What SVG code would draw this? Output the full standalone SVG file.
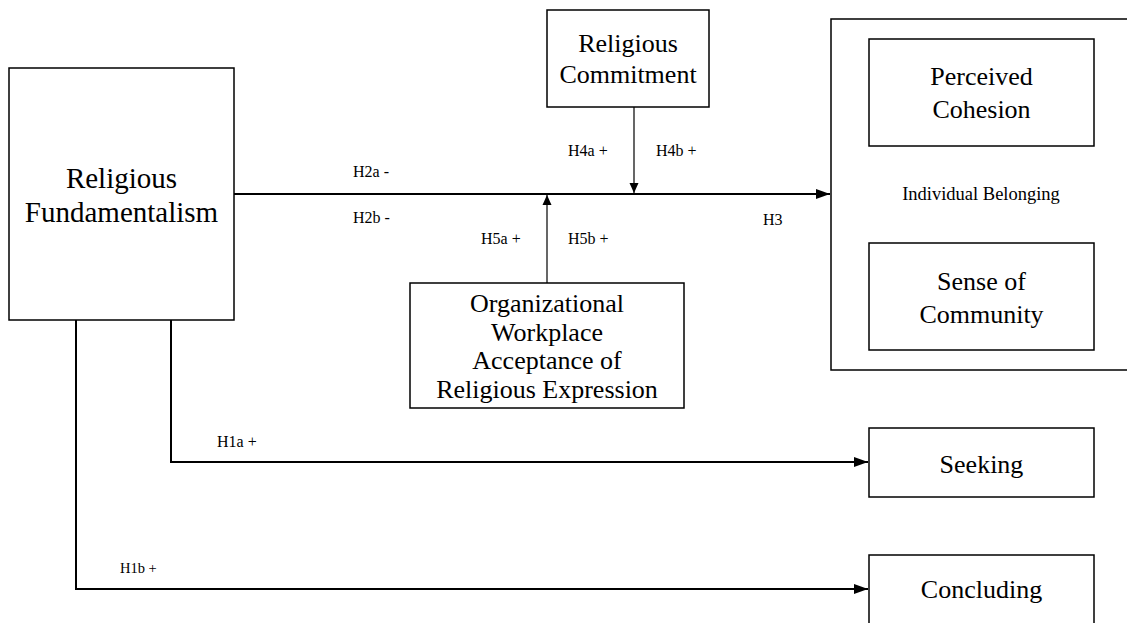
<svg xmlns="http://www.w3.org/2000/svg" width="1127" height="623" viewBox="0 0 1127 623">
<style>
.box{fill:#fff;stroke:#000;stroke-width:1.5}
.t{font-family:"Liberation Serif","Times New Roman",serif;fill:#000;text-anchor:middle}
.big{font-size:26px}
.rf{font-size:29px}
.lbl{font-family:"Liberation Serif","Times New Roman",serif;fill:#000;font-size:16px}
.c{fill:none;stroke:#000}
</style>
<defs>
<marker id="ah" markerUnits="userSpaceOnUse" markerWidth="14" markerHeight="10" refX="14" refY="5" orient="auto">
<path d="M0,0 L14,5 L0,10 Z" fill="#000"/>
</marker>
<marker id="ahs" markerUnits="userSpaceOnUse" markerWidth="10" markerHeight="10" refX="10" refY="5" orient="auto">
<path d="M0,0.5 L10,5 L0,9.5 Z" fill="#000"/>
</marker>
</defs>
<rect width="1127" height="623" fill="#fff"/>
<g id="connectors">
<path class="c" stroke-width="2" d="M234,194 H830" marker-end="url(#ah)"/>
<path class="c" stroke-width="1.2" d="M634,107 V193" marker-end="url(#ahs)"/>
<path class="c" stroke-width="1.2" d="M547,283 V195" marker-end="url(#ahs)"/>
<path class="c" stroke-width="2" d="M171,320 V462 H868" marker-end="url(#ah)"/>
<path class="c" stroke-width="2" d="M76,320 V589 H868" marker-end="url(#ah)"/>
</g>
<g id="labels">
<text class="lbl" x="353" y="177">H2a -</text>
<text class="lbl" x="353" y="223">H2b -</text>
<text class="lbl" x="568" y="156">H4a +</text>
<text class="lbl" x="656" y="156">H4b +</text>
<text class="lbl" x="481" y="244">H5a +</text>
<text class="lbl" x="568" y="244">H5b +</text>
<text class="lbl" x="763" y="225">H3</text>
<text class="lbl" x="217" y="447">H1a +</text>
<text class="lbl" x="120" y="573" style="font-size:14.5px">H1b +</text>
</g>
<g id="religious-fundamentalism">
<rect class="box" x="9" y="68" width="225" height="252"/>
<text class="t rf" x="121.5" y="188">Religious</text>
<text class="t rf" x="121.5" y="222">Fundamentalism</text>
</g>
<g id="religious-commitment">
<rect class="box" x="547" y="10" width="162" height="97"/>
<text class="t big" x="628" y="52">Religious</text>
<text class="t big" x="628" y="83">Commitment</text>
</g>
<g id="organizational-acceptance">
<rect class="box" x="410" y="283" width="274" height="125"/>
<text class="t big" x="547" y="312">Organizational</text>
<text class="t big" x="547" y="341">Workplace</text>
<text class="t big" x="547" y="369">Acceptance of</text>
<text class="t big" x="547" y="398">Religious Expression</text>
</g>
<g id="individual-belonging">
<rect class="box" x="831" y="19" width="300" height="351"/>
<text class="t" x="981" y="200" style="font-size:18.5px">Individual Belonging</text>
</g>
<g id="perceived-cohesion">
<rect class="box" x="869" y="39" width="225" height="107"/>
<text class="t big" x="981.5" y="85">Perceived</text>
<text class="t big" x="981.5" y="118">Cohesion</text>
</g>
<g id="sense-of-community">
<rect class="box" x="869" y="243" width="225" height="107"/>
<text class="t big" x="981.5" y="290">Sense of</text>
<text class="t big" x="981.5" y="323">Community</text>
</g>
<g id="seeking">
<rect class="box" x="869" y="428" width="225" height="69"/>
<text class="t big" x="981.5" y="473">Seeking</text>
</g>
<g id="concluding">
<rect class="box" x="869" y="555" width="225" height="90"/>
<text class="t big" x="981.5" y="598">Concluding</text>
</g>
</svg>
